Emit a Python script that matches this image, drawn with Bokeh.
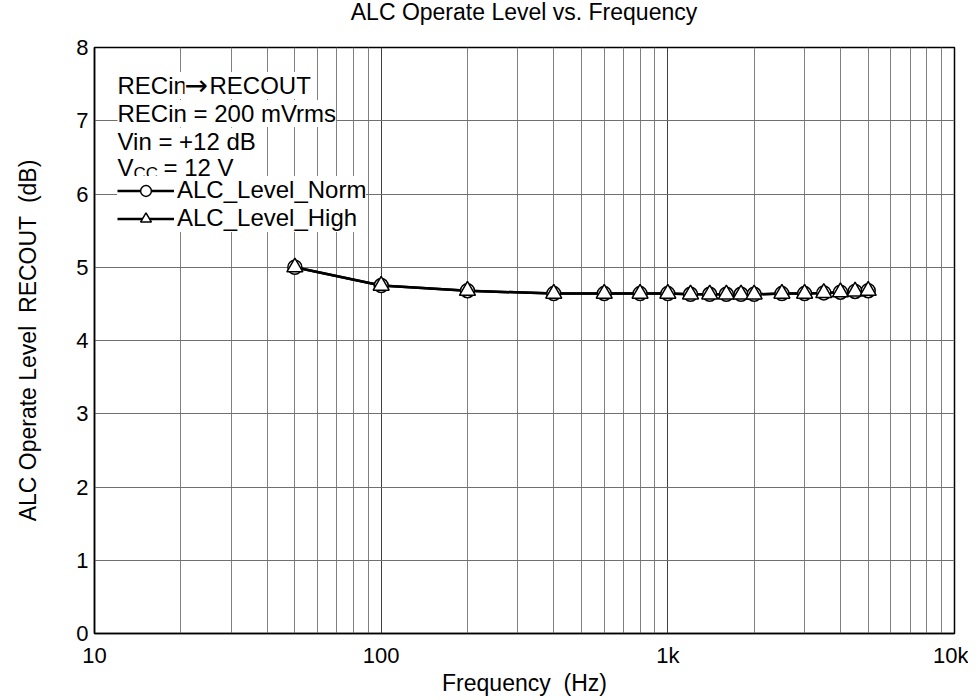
from bokeh.plotting import figure
from bokeh.models import FixedTicker, Label, Range1d, Legend, LegendItem, Div
from bokeh.layouts import column
from bokeh.embed import file_html
from bokeh.resources import INLINE

# ---- data ----
freq_hz = [50, 100, 200, 400, 600, 800, 1000, 1200, 1400, 1600, 1800, 2000,
           2500, 3000, 3500, 4000, 4500, 5000]
alc_level_norm = [5.00, 4.75, 4.68, 4.64, 4.64, 4.64, 4.64, 4.63, 4.63, 4.63,
                  4.63, 4.63, 4.64, 4.64, 4.65, 4.66, 4.67, 4.68]
alc_level_high = [5.00, 4.75, 4.68, 4.64, 4.64, 4.64, 4.64, 4.63, 4.63, 4.63,
                  4.63, 4.63, 4.64, 4.64, 4.65, 4.66, 4.67, 4.68]

x_major_ticks = [10, 100, 1000, 10000]
x_tick_labels = ["10", "100", "1k", "10k"]
x_minor_ticks = [m * d for d in (10, 100, 1000) for m in range(2, 10)]
y_ticks = [0, 1, 2, 3, 4, 5, 6, 7, 8]

TITLE = "ALC Operate Level vs. Frequency"
FONT = "Liberation Sans"

title_div = Div(text=TITLE, width=968, height=26, margin=0,
                styles={"font-family": FONT, "font-size": "23px",
                        "line-height": "25px", "color": "black",
                        "text-align": "center", "padding-left": "80px",
                        "padding-top": "0px", "box-sizing": "border-box",
                        "width": "968px"})

p = figure(width=968, height=672, x_axis_type="log",
           x_range=Range1d(10, 10000), y_range=Range1d(0, 8),
           output_backend="svg", toolbar_location=None,
           min_border_left=94, min_border_right=14,
           min_border_top=21, min_border_bottom=65)

p.outline_line_color = "black"
p.outline_line_width = 1.5
p.background_fill_color = "white"
p.border_fill_color = "white"

# axes
p.xaxis.ticker = FixedTicker(ticks=x_major_ticks, minor_ticks=x_minor_ticks)
p.xaxis.major_label_overrides = {t: l for t, l in zip(x_major_ticks, x_tick_labels)}
p.yaxis.ticker = FixedTicker(ticks=y_ticks)
for ax in (p.xaxis, p.yaxis):
    ax.axis_line_color = "black"
    ax.axis_line_width = 1.5
    ax.major_tick_in = 0
    ax.major_tick_out = 0
    ax.minor_tick_line_color = None
    ax.major_label_text_font = FONT
    ax.major_label_text_font_size = "22px"
    ax.major_label_text_color = "black"
    ax.axis_label_text_font = FONT
    ax.axis_label_text_font_size = "23px"
    ax.axis_label_text_font_style = "normal"
    ax.axis_label_text_color = "black"

p.xaxis.axis_label = "Frequency\u00a0 (Hz)"
p.yaxis.axis_label = "ALC Operate Level\u00a0 RECOUT\u00a0 (dB)"
p.xaxis.major_label_standoff = 5
p.xaxis.axis_label_standoff = -1
p.yaxis.major_label_standoff = 6
p.yaxis.axis_label_standoff = 32

# grids
p.xgrid.grid_line_color = "#404040"
p.xgrid.grid_line_width = 1
p.xgrid.minor_grid_line_color = "#808080"
p.xgrid.minor_grid_line_width = 1
p.ygrid.grid_line_color = "#707070"
p.ygrid.grid_line_width = 1

# series
ln_norm = p.line(freq_hz, alc_level_norm, line_color="black", line_width=2.5)
ln_high = p.line(freq_hz, alc_level_high, line_color="black", line_width=2.5)
mk_norm = p.scatter(freq_hz, alc_level_norm, marker="circle", size=14,
                    fill_color="white", line_color="black", line_width=1.5)
mk_high = p.scatter(freq_hz, alc_level_high, marker="triangle", size=16,
                    fill_color="white", line_color="black", line_width=1.5)

# annotation text block (upper left), positions given in reference pixels
def px_to_hz(px):
    return 10 ** (1 + (px - 95) / 286.67)

def py_to_db(py):
    return (634 - py) / 73.25

def add_text(txt, px, py_base, size="24px", font=FONT):
    p.add_layout(Label(x=px_to_hz(px), y=py_to_db(py_base), text=txt,
                       text_font=font, text_font_size=size,
                       text_color="black", text_baseline="alphabetic",
                       background_fill_color="white"))

add_text("RECin", 118, 86)
add_text("\u2192", 185, 86, size="28px", font="DejaVu Sans")
add_text("RECOUT", 210, 86)
add_text("RECin = 200 mVrms", 118, 114)
add_text("Vin = +12 dB", 118, 141.7)
add_text("V", 118, 168.3)
add_text("CC", 134, 173.5, size="17px")
add_text("= 12 V", 164, 168.3)

legend = Legend(items=[
    LegendItem(label="ALC_Level_Norm", renderers=[ln_norm, mk_norm]),
    LegendItem(label="ALC_Level_High", renderers=[ln_high, mk_high]),
], location=(23, 401))
legend.padding = 0
legend.margin = 0
legend.spacing = 0
legend.glyph_width = 57
legend.glyph_height = 27
legend.label_height = 27
legend.label_standoff = 3
legend.label_text_font = FONT
legend.label_text_font_size = "24px"
legend.label_text_color = "black"
legend.border_line_color = None
legend.background_fill_color = "white"
legend.background_fill_alpha = 1.0
p.add_layout(legend)

layout = column(title_div, p, spacing=0)
open("out.html", "w").write(file_html(layout, INLINE))
